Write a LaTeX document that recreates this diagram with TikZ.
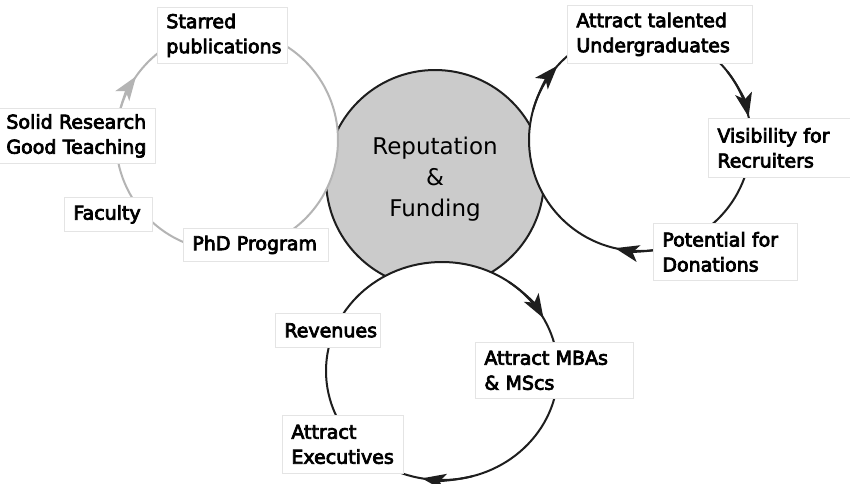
\documentclass[tikz,border=0pt]{standalone}
\usepackage{fontspec}
\usetikzlibrary{shapes.geometric,arrows.meta}
\newfontfamily\lblfont{DejaVu Sans}[FakeBold=4]
\newfontfamily\hubfont{DejaVu Sans}
\definecolor{hubgray}{HTML}{CBCBCB}
\definecolor{loopgray}{HTML}{B4B4B4}
\definecolor{ink}{HTML}{1E1E1E}
\definecolor{boxedge}{HTML}{E4E4E4}
\hyphenpenalty=10000
\exhyphenpenalty=10000

\begin{document}
\begin{tikzpicture}[x=1pt,y=-1pt,
  loop/.style={draw=ink, line width=2pt, fill=white, inner sep=0pt},
  tip/.style={draw=ink, line width=2pt, -{Stealth[length=24pt,width=17pt,inset=6pt]}},
  lbl/.style={draw=boxedge, line width=0.8pt, fill=white, anchor=north west,
    align=left, inner xsep=9pt, inner ysep=0pt,
    font=\lblfont\fontsize{19}{25}\selectfont}]
\fill[white] (0,0) rectangle (850,483);
\useasboundingbox (0,0) rectangle (850,483);

% central hub
\node[circle, draw=ink, line width=2pt, fill=hubgray, minimum size=218pt,
  align=center, font=\hubfont\fontsize{23}{31}\selectfont] (hub) at (435,179)
  {Reputation\\\&\\Funding};

% the three reinforcing loops
\node[circle, loop, draw=loopgray, minimum size=222pt] (research) at (227,140) {};
\node[circle, loop, minimum size=222pt] (students) at (640,140) {};
\node[ellipse, loop, minimum width=232pt, minimum height=218pt] (programs) at (442,371) {};

% flow direction on each loop
\draw[tip, draw=loopgray] (research.center) ++(190:111)
  arc[start angle=190, end angle=215, radius=111];
\draw[tip] (students.center) ++(196:111)
  arc[start angle=196, end angle=222, radius=111];
\draw[tip] (students.center) ++(322:111)
  arc[start angle=322, end angle=348, radius=111];
\draw[tip] (students.center) ++(78:111)
  arc[start angle=78, end angle=103, radius=111];
\draw[tip] (programs.center) ++(305:116 and 109)
  arc[start angle=305, end angle=331, x radius=116, y radius=109];
\draw[tip] (programs.center) ++(75:116 and 109)
  arc[start angle=75, end angle=100, x radius=116, y radius=109];

% research loop labels
\node[lbl, text width=112pt, minimum height=56pt] (starred) at (157,7) {Starred\\publications};
\node[lbl, text width=140pt, minimum height=55pt] (solid) at (-3,108) {Solid~Research\\Good~Teaching};
\node[lbl, text width=70pt, minimum height=34pt] (faculty) at (64,197) {Faculty};
\node[lbl, text width=127pt, minimum height=33pt] (phd) at (183,228) {PhD~Program};

% student loop labels
\node[lbl, text width=167pt, minimum height=58pt] (ugrad) at (567,5) {Attract~talented\\Undergraduates};
\node[lbl, text width=132pt, minimum height=59pt] (visib) at (708,118) {Visibility~for\\Recruiters};
\node[lbl, text width=126pt, minimum height=57pt] (donate) at (653,223) {Potential~for\\Donations};

% program loop labels
\node[lbl, text width=87pt, minimum height=34pt] (revenue) at (275,313) {Revenues};
\node[lbl, text width=103pt, minimum height=58pt] (exec) at (282,415) {Attract\\Executives};
\node[lbl, text width=140pt, minimum height=56pt] (mba) at (475,342) {Attract~MBAs\\\&~MScs};
\end{tikzpicture}
\end{document}
